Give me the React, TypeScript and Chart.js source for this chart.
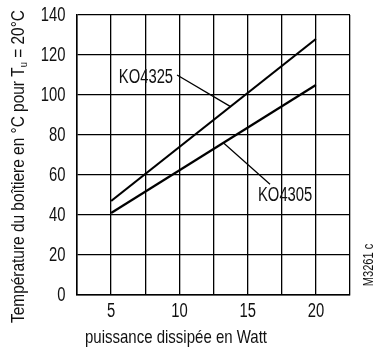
import React, { useEffect, useRef } from 'react';
import { Chart, registerables } from 'chart.js';
Chart.register(...registerables);

// Data
const powerW = [5, 20];
const ko4325Temp = [47, 128];
const ko4305Temp = [41, 105];
const leader4325X = [9.83, 13.75];
const leader4325Y = [110, 94.2];
const leader4305X = [13.26, 16.64];
const leader4305Y = [75.9, 55.4];
const seriesNames = ['KO4325', 'KO4305'];
const labelAnchorX = [9.54, 15.76];
const labelAnchorY = [109, 50];
const xMin = 2.5, xMax = 22.5, xStep = 2.5;
const yMin = 0, yMax = 140, yStep = 20;
const xTickValues = [5, 10, 15, 20];
const xTickLabels = ['5', '10', '15', '20'];
const yTickValues = [0, 20, 40, 60, 80, 100, 120, 140];
const yTickLabels = ['0', '20', '40', '60', '80', '100', '120', '140'];
const yTitleMain = 'Température du boîtiere en °C pour T';
const yTitleSub = 'u';
const yTitleEnd = ' = 20°C';
const xTitle = 'puissance dissipée en Watt';
const figureRef = 'M3261 c';

const FONT = "'Liberation Sans', Arial, sans-serif";
const INK = '#111';
const SX = 0.74;

function drawText(ctx: CanvasRenderingContext2D, text: string, x: number, y: number, size: number, align: CanvasTextAlign, sx: number, rot = 0) {
  ctx.save();
  ctx.translate(x, y);
  if (rot) ctx.rotate(rot);
  ctx.scale(sx, 1);
  ctx.font = `${size}px ${FONT}`;
  ctx.textAlign = align;
  ctx.textBaseline = 'middle';
  ctx.fillText(text, 0, 0);
  ctx.restore();
}

const annotPlugin = {
  id: 'annot',
  afterDraw(chart: any) {
    const ctx: CanvasRenderingContext2D = chart.ctx;
    const xs = chart.scales.x, ys = chart.scales.y;
    const area = chart.chartArea;
    ctx.save();
    ctx.fillStyle = INK;
    // tick labels
    yTickValues.forEach((v, i) => drawText(ctx, yTickLabels[i], area.left - 11.5, ys.getPixelForValue(v), 20, 'right', SX));
    xTickValues.forEach((v, i) => drawText(ctx, xTickLabels[i], xs.getPixelForValue(v), area.bottom + 16.5, 20, 'center', SX));
    // series labels
    drawText(ctx, seriesNames[0], xs.getPixelForValue(labelAnchorX[0]), ys.getPixelForValue(labelAnchorY[0]), 20, 'right', SX);
    drawText(ctx, seriesNames[1], xs.getPixelForValue(labelAnchorX[1]), ys.getPixelForValue(labelAnchorY[1]), 20, 'left', SX);
    // x title (fit width)
    ctx.font = `19px ${FONT}`;
    const wx = ctx.measureText(xTitle).width;
    drawText(ctx, xTitle, area.left + 8, 338, 19, 'left', 182 / wx);
    // y title rotated with subscript
    ctx.font = `18px ${FONT}`;
    const wMain = ctx.measureText(yTitleMain).width;
    const wEnd = ctx.measureText(yTitleEnd).width;
    ctx.font = `11px ${FONT}`;
    const wSub = ctx.measureText(yTitleSub).width;
    const total = wMain + wSub + wEnd;
    const sy = 313 / total;
    ctx.save();
    ctx.translate(19, 166.5);
    ctx.rotate(-Math.PI / 2);
    ctx.scale(sy, 1);
    ctx.textBaseline = 'middle';
    ctx.textAlign = 'left';
    let x = -total / 2;
    ctx.font = `18px ${FONT}`;
    ctx.fillText(yTitleMain, x, 0);
    x += wMain;
    ctx.font = `11px ${FONT}`;
    ctx.fillText(yTitleSub, x, 5);
    x += wSub;
    ctx.font = `18px ${FONT}`;
    ctx.fillText(yTitleEnd, x, 0);
    ctx.restore();
    // figure reference
    drawText(ctx, figureRef, 369, 265, 15, 'center', SX, -Math.PI / 2);
    ctx.restore();
  },
};

export default function App() {
  const ref = useRef<HTMLCanvasElement>(null);
  useEffect(() => {
    if (!ref.current) return;
    const toPts = (xs: number[], ys: number[]) => xs.map((x, i) => ({ x, y: ys[i] }));
    const chart = new Chart(ref.current, {
      type: 'line',
      data: {
        datasets: [
          { label: seriesNames[0], data: toPts(powerW, ko4325Temp), borderColor: '#000', borderWidth: 2.2, pointRadius: 0, fill: false },
          { label: seriesNames[1], data: toPts(powerW, ko4305Temp), borderColor: '#000', borderWidth: 2.2, pointRadius: 0, fill: false },
          { label: 'leader1', data: toPts(leader4325X, leader4325Y), borderColor: '#000', borderWidth: 1.3, pointRadius: 0, fill: false },
          { label: 'leader2', data: toPts(leader4305X, leader4305Y), borderColor: '#000', borderWidth: 1.3, pointRadius: 0, fill: false },
        ],
      },
      options: {
        animation: false,
        responsive: false,
        layout: { padding: { left: 0, top: 15, right: 26, bottom: 0 } },
        plugins: { legend: { display: false }, tooltip: { enabled: false } },
        scales: {
          x: {
            type: 'linear', min: xMin, max: xMax,
            afterFit: (s: any) => { s.height = 57; },
            ticks: { stepSize: xStep, display: false },
            grid: { color: '#000', lineWidth: 1.3, drawTicks: false },
            border: { color: '#000', width: 1.5 },
          },
          y: {
            type: 'linear', min: yMin, max: yMax,
            afterFit: (s: any) => { s.width = 77; },
            ticks: { stepSize: yStep, display: false },
            grid: { color: '#000', lineWidth: 1.3, drawTicks: false },
            border: { color: '#000', width: 1.5 },
          },
        },
      },
      plugins: [annotPlugin],
    });
    return () => chart.destroy();
  }, []);
  return (
    <div style={{ position: 'absolute', left: 0, top: 0, width: 376, height: 352, background: '#fff' }}>
      <canvas ref={ref} width={376} height={352} style={{ display: 'block' }} />
    </div>
  );
}
